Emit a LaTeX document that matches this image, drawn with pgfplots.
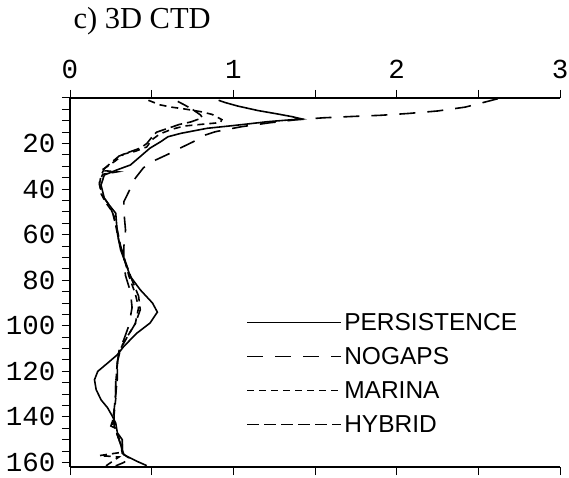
\documentclass[border=0pt]{standalone}
\usepackage{fontspec}
\setmainfont{Liberation Serif}
\newfontfamily\tickfont{Liberation Mono}
\newfontfamily\legfont{Liberation Sans}
\usepackage{pgfplots}
\pgfplotsset{compat=1.18}

\begin{document}
\begin{tikzpicture}
\begin{axis}[
  scale only axis, width=490pt, height=369pt,
  xmin=0, xmax=3, ymin=0, ymax=162, y dir=reverse,
  axis x line*=box, axis y line*=left,
  xtick={0,1,2,3}, minor xtick={0.5,1.5,2.5},
  ytick={20,40,...,160}, minor ytick={0,5,...,160},
  xticklabel pos=upper,
  tick align=outside,
  major tick length=8pt, minor tick length=8pt,
  tick style={black, line width=1pt},
  axis line style={line width=1.5pt},
  /pgf/number format/assume math mode=true,
  ticklabel style={font=\tickfont\fontsize{27.5}{30}\selectfont},
  xticklabel style={yshift=8pt},
  yticklabel style={xshift=-3pt},
  title={c) 3D CTD},
  title style={at={(axis description cs:0,1)}, anchor=base west, yshift=63pt, xshift=0pt, font=\fontsize{30.5}{34}\selectfont},
  legend style={draw=none, fill=none, at={(axis description cs:0.354,0.428)}, anchor=north west,
     font=\legfont\fontsize{24.5}{27}\selectfont, row sep=11.5pt},
  legend cell align=left,
  legend image code/.code={\draw[#1] (0pt,0pt) -- (80pt,0pt); \path (0pt,0pt) -- (94pt,0pt);},
]
\coordinate (ll) at (axis cs:0,162);
\coordinate (ur) at (axis cs:3,0);
\addplot[black, line width=1.6pt, solid] table {
0.91 1
0.95 2
1.025 3.5
1.15 5.5
1.27 7
1.36 8.2
1.42 9.2
1.33 9.7
1.21 10.4
1.10 11.3
1.00 12.1
0.84 13.3
0.68 15.5
0.60 17
0.555 19.2
0.49 22
0.43 25.7
0.37 29.4
0.29 31.5
0.21 33.8
0.19 38.2
0.21 44
0.24 47
0.28 50.6
0.29 59.4
0.31 66.7
0.34 72.5
0.37 78.4
0.43 84.2
0.505 90
0.535 94
0.49 98.8
0.41 103.2
0.33 109
0.29 112.7
0.23 116.4
0.17 120
0.15 123.7
0.16 128
0.19 132.5
0.23 136
0.26 139.8
0.28 142.7
0.29 147
0.32 150
0.32 154.4
0.33 156.6
0.41 159.5
0.47 161.4
};
\addlegendentry{PERSISTENCE}
\addplot[black, line width=1.6pt, dash pattern=on 16pt off 12pt] table {
2.62 0.3
2.54 1.8
2.42 4
2.25 5.7
2.07 6.8
1.90 7.6
1.73 8.1
1.55 8.7
1.38 9.6
1.22 10.9
1.05 12.6
0.89 14.8
0.83 16.2
0.755 19.2
0.68 21.8
0.60 24.7
0.525 27.2
0.45 30.6
0.40 35.2
0.36 41.1
0.33 45.5
0.33 50
0.34 58
0.33 65
0.33 72
0.34 78
0.37 85
0.38 92
0.36 100
0.33 106
0.30 111
0.29 116
0.28 124
0.28 130
0.27 136
0.27 141
0.26 144
0.29 148
0.31 152
0.32 155
};
\addlegendentry{NOGAPS}
\addplot[black, line width=1.6pt, dash pattern=on 7pt off 5pt] table {
0.48 1
0.55 3
0.62 4
0.70 4.8
0.80 6
0.87 7.2
0.93 9.5
0.92 10.8
0.80 11.6
0.70 12.3
0.62 13.8
0.55 15.8
0.50 18.4
0.47 21.5
0.40 23.4
0.33 24.6
0.28 27.5
0.22 30.5
0.19 31.8
0.29 32.4
0.20 33.5
0.18 37
0.19 42
0.22 46
0.26 50
0.28 56
0.30 63
0.33 70
0.36 78
0.40 86
0.42 92
0.40 99
0.34 106
0.30 111
0.29 117
0.28 125
0.28 132
0.27 139
0.27 144
0.29 148
0.32 152
0.32 155.5
0.18 157
0.30 157.6
0.22 161.5
};
\addlegendentry{MARINA}
\addplot[black, line width=1.6pt, dash pattern=on 12pt off 5pt] table {
0.66 1.5
0.70 3
0.75 5
0.80 7.5
0.81 8.7
0.74 10.5
0.67 11.6
0.60 13.3
0.53 15
0.50 17.3
0.47 20
0.43 22
0.36 23.8
0.30 25.5
0.25 28.5
0.21 31
0.19 34
0.18 38
0.20 43
0.24 47
0.27 52
0.29 58
0.31 65
0.34 72
0.38 80
0.42 87
0.43 93
0.40 99
0.35 105
0.31 110
0.29 116
0.29 123
0.28 130
0.27 137
0.26 142
0.25 144
0.28 145
0.29 148
0.31 152
0.32 156
0.36 158
0.33 160
0.28 161.5
};
\addlegendentry{HYBRID}
\end{axis}
\pgfresetboundingbox
\useasboundingbox ([shift={(-70pt,-11pt)}]ll) rectangle ([shift={(9pt,98pt)}]ur);
\end{tikzpicture}
\end{document}
